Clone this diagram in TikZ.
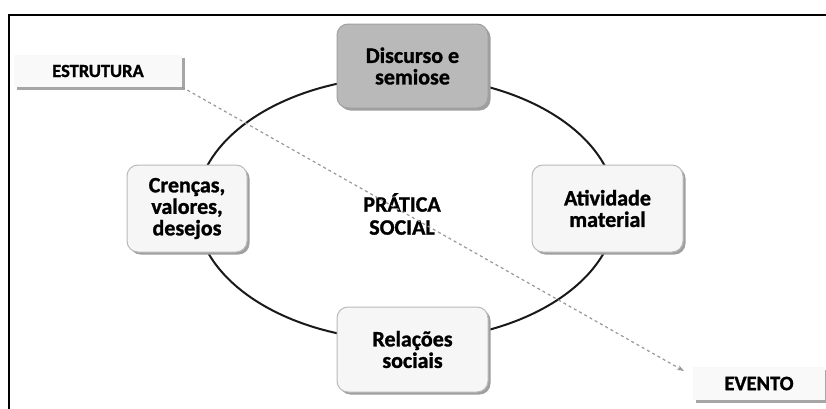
\documentclass[tikz,border=0pt]{standalone}
\usepackage{fontspec}
\setmainfont{Carlito}[BoldFeatures={FakeBold=1.2}]
\usetikzlibrary{shadows,arrows.meta}
\begin{document}
\begin{tikzpicture}[x=1pt,y=-1pt,
  boxtext/.style={font=\bfseries\fontsize{22}{21.5}\selectfont, align=center, text=black},
  pbox/.style={boxtext, draw=gray!55, line width=1pt, fill=gray!7, rounded corners=11pt,
    inner sep=0pt, drop shadow={shadow xshift=2.5pt, shadow yshift=-2.5pt, fill=gray!75, opacity=1}},
  dbox/.style={pbox, fill=gray!55, draw=gray!75},
  tagbox/.style={font=\bfseries\fontsize{20.5}{22}\selectfont, text=black, draw=none, fill=gray!5,
    inner sep=0pt, drop shadow={shadow xshift=2.5pt, shadow yshift=-2.5pt, fill=gray!70, opacity=1}},
  ring/.style={line width=2pt, draw=black!90},
  link/.style={draw=gray!80, line width=1.2pt, dash pattern=on 3pt off 3pt, -{Stealth[length=7pt,width=5pt]}}
]
\useasboundingbox (0,0) rectangle (826,408);
\fill[white] (0,0) rectangle (826,408);
% frame
\draw[line width=2.4pt, black] (9,420) -- (9,15) -- (840,15);
% ellipse
\draw[ring] (406,208.5) ellipse [x radius=210, y radius=132];
% boxes
\node[dbox, minimum width=151pt, minimum height=84pt] (disc) at (412.5,66) {Discurso e\\semiose};
\node[pbox, minimum width=120pt, minimum height=87pt] (cren) at (187,208.5) {Crenças,\\valores,\\desejos};
\node[pbox, minimum width=151pt, minimum height=87pt] (ativ) at (607.5,208.5) {Atividade\\material};
\node[pbox, minimum width=151pt, minimum height=85pt] (rel) at (412.5,349.5) {Relações\\sociais};
\node[boxtext, font=\bfseries\fontsize{22}{23}\selectfont] (prat) at (402,214) {PRÁTICA\\SOCIAL};
\node[tagbox, font=\bfseries\fontsize{18.5}{20}\selectfont, minimum width=168pt, minimum height=32pt] (estr) at (98,71) {ESTRUTURA};
\node[tagbox, minimum width=132pt, minimum height=33pt] (even) at (759,383.5) {EVENTO};
\coordinate (tip) at (684,371);
\draw[link] (estr.south east) -- (tip);
\end{tikzpicture}
\end{document}
